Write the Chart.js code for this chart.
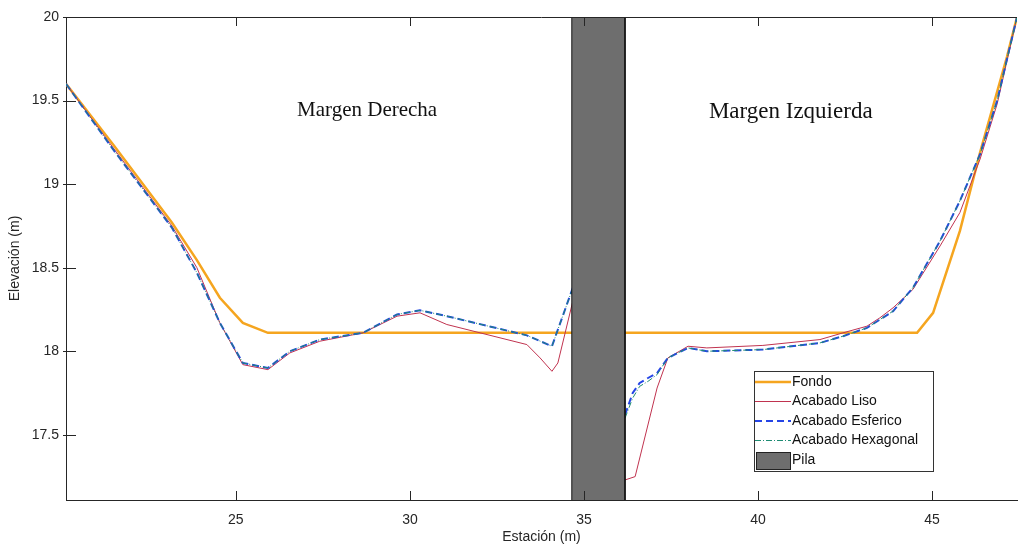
<!DOCTYPE html>
<html>
<head>
<meta charset="utf-8">
<script src="https://cdn.jsdelivr.net/npm/chart.js@4.4.1/dist/chart.umd.min.js"></script>
<style>
  html, body { margin: 0; padding: 0; background: #fff; }
  #wrap { width: 1022px; height: 546px; }
</style>
</head>
<body>
<div id="wrap"><canvas id="chart1"></canvas></div>
<script>
// axis range and ticks
const xMin = 20.12, xMax = 47.44;
const yMin = 17.11, yMax = 20;
const xTicks = [25, 30, 35, 40, 45];
const yTicks = [17.5, 18, 18.5, 19, 19.5, 20];

// Fondo
const fondoX = [20.12, 21.5, 23.16, 23.88, 24.54, 25.2, 25.92, 34.65, 36.18, 44.57, 45.03, 45.8, 46.38, 47.15, 47.44];
const fondoY = [19.6, 19.23, 18.77, 18.545, 18.32, 18.17, 18.11, 18.11, 18.11, 18.11, 18.23, 18.72, 19.19, 19.76, 20];

// Acabado Liso
const lisoX = [20.12, 21.5, 23.16, 23.88, 24.54, 25.2, 25.92, 26.55, 27.41, 28.65, 29.63, 30.29, 31.06, 33.36, 33.74, 34.08, 34.25, 34.68, 35.4,
  36.18, 36.47, 37.1, 37.41, 37.99, 38.53, 40.14, 41.78, 42.44, 43.13, 43.5, 43.88, 44.45, 45.23, 45.8, 46.38, 46.87, 47.44];
const lisoY = [19.6, 19.21, 18.75, 18.5, 18.17, 17.92, 17.89, 17.99, 18.06, 18.11, 18.21, 18.23, 18.16, 18.04, 17.96, 17.88, 17.93, 18.3, null,
  17.23, 17.25, 17.78, 17.96, 18.03, 18.02, 18.035, 18.07, 18.11, 18.15, 18.2, 18.26, 18.37, 18.63, 18.83, 19.15, 19.48, 20];

// Acabado Esferico
const esfX = [20.12, 21.5, 23.16, 23.88, 24.54, 25.2, 25.92, 26.55, 27.41, 28.65, 29.63, 30.29, 31.06, 33.36, 34.08, 34.68, 35.4,
  36.18, 36.4, 36.6, 36.84, 37.1, 37.41, 37.99, 38.53, 40.14, 41.78, 42.44, 43.13, 43.88, 44.45, 45.23, 45.8, 46.38, 46.87, 47.44];
const esfY = [19.6, 19.2, 18.74, 18.47, 18.17, 17.93, 17.9, 18.0, 18.07, 18.11, 18.22, 18.245, 18.21, 18.095, 18.03, 18.38, null,
  17.62, 17.75, 17.81, 17.84, 17.87, 17.96, 18.02, 18.0, 18.01, 18.05, 18.09, 18.14, 18.24, 18.38, 18.66, 18.9, 19.18, 19.5, 20];

// Acabado Hexagonal
const hexX = [20.12, 21.5, 23.16, 23.88, 24.54, 25.2, 25.92, 26.55, 27.41, 28.65, 29.63, 30.29, 31.06, 33.36, 34.08, 34.68, 35.4,
  36.18, 36.4, 36.6, 36.84, 37.1, 37.41, 37.99, 38.53, 40.14, 41.78, 42.44, 43.13, 43.88, 44.45, 45.23, 45.8, 46.38, 46.87, 47.44];
const hexY = [19.6, 19.2, 18.74, 18.47, 18.17, 17.93, 17.9, 18.0, 18.07, 18.11, 18.22, 18.245, 18.21, 18.095, 18.03, 18.38, null,
  17.6, 17.72, 17.79, 17.82, 17.86, 17.96, 18.02, 18.0, 18.01, 18.05, 18.09, 18.14, 18.24, 18.38, 18.66, 18.9, 19.18, 19.5, 20];

// Pila
const pilaX = [34.65, 34.65, 36.18, 36.18];
const pilaY = [yMin, yMax, yMax, yMin];

// annotations
const notes = ['Margen Derecha', 'Margen Izquierda'];
const notesX = [28.77, 40.94];
const notesY = [19.44, 19.43];

const toPts = (xs, ys) => xs.map((x, i) => ({ x: x, y: ys[i] }));

const axisColor = '#262626';

const extrasPlugin = {
  id: 'extras',
  afterDraw(chart) {
    const ctx = chart.ctx;
    const a = chart.chartArea;
    const xs = chart.scales.x, ys = chart.scales.y;
    ctx.save();
    // top border
    ctx.strokeStyle = axisColor;
    ctx.lineWidth = 1;
    ctx.beginPath();
    ctx.moveTo(a.left, a.top + 0.5);
    ctx.lineTo(a.right, a.top + 0.5);
    ctx.stroke();
    // inward ticks
    xTicks.forEach(v => {
      const px = Math.round(xs.getPixelForValue(v)) + 0.5;
      ctx.beginPath();
      ctx.moveTo(px, a.bottom); ctx.lineTo(px, a.bottom - 9);
      ctx.moveTo(px, a.top); ctx.lineTo(px, a.top + 9);
      ctx.stroke();
    });
    yTicks.forEach(v => {
      const py = Math.round(ys.getPixelForValue(v)) + 0.5;
      ctx.beginPath();
      ctx.moveTo(a.left - 3, py); ctx.lineTo(a.left + 10, py);
      ctx.stroke();
    });
    // annotations
    ctx.fillStyle = '#111';
    ctx.textAlign = 'center';
    ctx.textBaseline = 'middle';
    const sizes = [21, 23];
    notes.forEach((t, i) => {
      ctx.font = sizes[i] + 'px "Liberation Serif", "DejaVu Serif", serif';
      ctx.fillText(t, xs.getPixelForValue(notesX[i]), ys.getPixelForValue(notesY[i]));
    });
    // legend
    const lx = 754, ly = 371, lw = 179, lh = 100, rowH = 19.5;
    ctx.fillStyle = '#fff';
    ctx.fillRect(lx, ly, lw, lh);
    ctx.strokeStyle = '#333';
    ctx.strokeRect(lx + 0.5, ly + 0.5, lw, lh);
    ctx.font = '14px "Liberation Sans", Arial, sans-serif';
    ctx.textAlign = 'left';
    chart.data.datasets.forEach((ds, i) => {
      const cy = ly + 11 + i * rowH;
      if (ds.fill) {
        ctx.fillStyle = ds.backgroundColor;
        ctx.fillRect(lx + 2, cy - 8, 34, 17);
        ctx.strokeStyle = '#222';
        ctx.setLineDash([]);
        ctx.lineWidth = 1;
        ctx.strokeRect(lx + 2.5, cy - 7.5, 34, 17);
      } else {
        ctx.strokeStyle = ds.borderColor;
        ctx.lineWidth = ds.borderWidth;
        ctx.setLineDash(ds.borderDash || []);
        ctx.beginPath();
        ctx.moveTo(lx + 1, cy); ctx.lineTo(lx + 37, cy);
        ctx.stroke();
      }
      ctx.setLineDash([]);
      ctx.fillStyle = '#111';
      ctx.fillText(ds.label, lx + 38, cy);
    });
    ctx.restore();
  }
};

const chartCanvas = document.getElementById('chart1');
new Chart(chartCanvas.getContext('2d'), {
  type: 'line',
  data: {
    datasets: [
      { label: 'Fondo', data: toPts(fondoX, fondoY), borderColor: '#F5A51F', borderWidth: 2.5, order: 4 },
      { label: 'Acabado Liso', data: toPts(lisoX, lisoY), borderColor: '#C0334F', borderWidth: 1, order: 3 },
      { label: 'Acabado Esferico', data: toPts(esfX, esfY), borderColor: '#2545E6', borderWidth: 2, borderDash: [7, 4], order: 2 },
      { label: 'Acabado Hexagonal', data: toPts(hexX, hexY), borderColor: '#1E8C73', borderWidth: 1, borderDash: [6, 2, 1, 2], order: 1 },
      { label: 'Pila', data: toPts(pilaX, pilaY), borderColor: '#111', backgroundColor: 'rgb(110,110,110)', borderWidth: 1, fill: 'start', order: 0 }
    ]
  },
  options: {
    responsive: true,
    maintainAspectRatio: false,
    animation: false,
    layout: { padding: { top: 17, right: 5, left: 0, bottom: 0 } },
    elements: { point: { radius: 0 }, line: { tension: 0 } },
    plugins: { legend: { display: false }, tooltip: { enabled: false } },
    scales: {
      x: {
        type: 'linear',
        min: xMin,
        max: xMax,
        afterBuildTicks: s => { s.ticks = xTicks.map(v => ({ value: v })); },
        afterFit: s => { s.height = 46; },
        grid: { display: false, drawTicks: false },
        border: { display: true, color: axisColor, width: 1 },
        ticks: { color: axisColor, font: { family: '"Liberation Sans", Arial, sans-serif', size: 14 }, padding: 12, maxRotation: 0, callback: v => String(v) },
        title: { display: true, text: 'Estación (m)', color: axisColor, font: { family: '"Liberation Sans", Arial, sans-serif', size: 14 }, padding: { top: 0, bottom: 0 } }
      },
      y: {
        type: 'linear',
        min: yMin,
        max: yMax,
        afterBuildTicks: s => { s.ticks = yTicks.map(v => ({ value: v })); },
        afterFit: s => { s.width = 66; },
        grid: { display: false, drawTicks: false },
        border: { display: true, color: axisColor, width: 1 },
        ticks: { color: axisColor, font: { family: '"Liberation Sans", Arial, sans-serif', size: 14 }, padding: 7, callback: v => String(v) },
        title: { display: true, text: 'Elevación (m)', color: axisColor, font: { family: '"Liberation Sans", Arial, sans-serif', size: 14 }, padding: { top: 7, bottom: 0 } }
      }
    }
  },
  plugins: [extrasPlugin]
});
</script>
</body>
</html>
